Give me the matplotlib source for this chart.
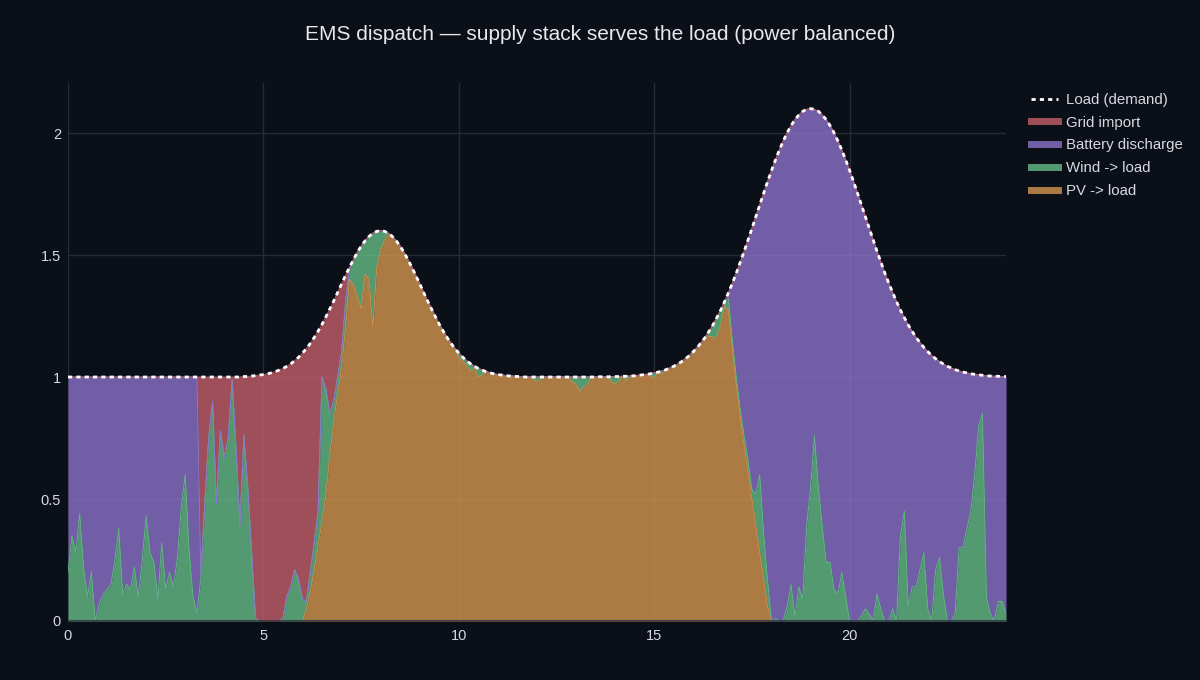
import numpy as np
import matplotlib
matplotlib.use("Agg")
import matplotlib.pyplot as plt
from matplotlib.lines import Line2D
from matplotlib.ticker import FuncFormatter

# ---------------- data (0.1 h steps) ----------------
hours = np.arange(0, 241) / 10.0

load = [
    1.000, 1.000, 1.000, 1.000, 1.000, 1.000, 1.000, 1.000, 1.000, 1.000,
    1.000, 1.000, 1.000, 1.000, 1.000, 1.000, 1.000, 1.000, 1.000, 1.000,
    1.000, 1.000, 1.000, 1.000, 1.000, 1.000, 1.000, 1.000, 1.000, 1.000,
    1.000, 1.000, 1.000, 1.000, 1.000, 1.000, 1.000, 1.000, 1.000, 1.000,
    1.000, 1.000, 1.000, 1.000, 1.000, 1.002, 1.002, 1.004, 1.006, 1.008,
    1.010, 1.013, 1.017, 1.022, 1.028, 1.035, 1.044, 1.054, 1.067, 1.081,
    1.098, 1.117, 1.138, 1.162, 1.188, 1.216, 1.247, 1.279, 1.312, 1.347,
    1.381, 1.416, 1.449, 1.480, 1.510, 1.536, 1.558, 1.576, 1.589, 1.597,
    1.600, 1.597, 1.589, 1.576, 1.558, 1.536, 1.510, 1.480, 1.449, 1.416,
    1.381, 1.347, 1.312, 1.279, 1.247, 1.216, 1.188, 1.162, 1.138, 1.117,
    1.098, 1.081, 1.067, 1.054, 1.044, 1.035, 1.028, 1.022, 1.017, 1.013,
    1.010, 1.008, 1.006, 1.004, 1.003, 1.002, 1.001, 1.000, 1.000, 1.000,
    1.000, 1.000, 1.000, 1.000, 1.000, 1.000, 1.000, 1.000, 1.000, 1.000,
    1.000, 1.000, 1.000, 1.000, 1.000, 1.000, 1.001, 1.001, 1.001, 1.001,
    1.002, 1.002, 1.003, 1.003, 1.004, 1.005, 1.007, 1.009, 1.011, 1.013,
    1.017, 1.020, 1.025, 1.030, 1.037, 1.044, 1.053, 1.063, 1.075, 1.088,
    1.104, 1.121, 1.141, 1.162, 1.187, 1.213, 1.243, 1.274, 1.309, 1.346,
    1.385, 1.426, 1.470, 1.515, 1.562, 1.609, 1.658, 1.706, 1.754, 1.801,
    1.846, 1.889, 1.930, 1.967, 2.001, 2.030, 2.055, 2.074, 2.089, 2.097,
    2.100, 2.097, 2.089, 2.074, 2.055, 2.030, 2.001, 1.967, 1.930, 1.889,
    1.846, 1.801, 1.754, 1.706, 1.658, 1.609, 1.562, 1.515, 1.470, 1.426,
    1.385, 1.346, 1.309, 1.274, 1.243, 1.213, 1.187, 1.162, 1.141, 1.121,
    1.104, 1.088, 1.075, 1.063, 1.053, 1.044, 1.037, 1.030, 1.025, 1.020,
    1.017, 1.013, 1.011, 1.009, 1.007, 1.005, 1.004, 1.003, 1.003, 1.002,
    1.002,
]

pv_to_load = [
    0, 0, 0, 0, 0, 0, 0, 0, 0, 0,
    0, 0, 0, 0, 0, 0, 0, 0, 0, 0,
    0, 0, 0, 0, 0, 0, 0, 0, 0, 0,
    0, 0, 0, 0, 0, 0, 0, 0, 0, 0,
    0, 0, 0, 0, 0, 0, 0, 0, 0, 0,
    0, 0, 0, 0, 0, 0, 0, 0, 0, 0,
    0.00, 0.05, 0.12, 0.21, 0.31, 0.41, 0.52, 0.68, 0.82, 0.93,
    1.04, 1.20, 1.40, 1.38, 1.33, 1.28, 1.42, 1.40, 1.20, 1.45,
    1.52, 1.56, 1.589, 1.576, 1.558, 1.536, 1.510, 1.480, 1.449, 1.416,
    1.381, 1.347, 1.312, 1.279, 1.247, 1.216, 1.188, 1.162, 1.138, 1.117,
    1.078, 1.066, 1.047, 1.024, 1.034, 1.000, 1.008, 1.022, 1.017, 1.013,
    1.010, 1.008, 1.006, 1.004, 1.003, 1.002, 1.001, 1.000, 1.000, 0.990,
    0.980, 0.990, 1.000, 1.000, 1.000, 1.000, 1.000, 1.000, 1.000, 0.980,
    0.970, 0.940, 0.960, 0.970, 1.000, 1.000, 1.001, 1.001, 1.001, 0.981,
    0.972, 0.982, 1.003, 0.983, 1.004, 1.005, 1.007, 1.009, 1.011, 1.003,
    0.997, 1.020, 1.010, 1.030, 1.037, 1.044, 1.053, 1.063, 1.075, 1.088,
    1.104, 1.121, 1.141, 1.162, 1.167, 1.163, 1.163, 1.214, 1.290, 1.27,
    1.12, 0.97, 0.84, 0.72, 0.61, 0.50, 0.39, 0.28, 0.17, 0.06,
    0, 0, 0, 0, 0, 0, 0, 0, 0, 0,
    0, 0, 0, 0, 0, 0, 0, 0, 0, 0,
    0, 0, 0, 0, 0, 0, 0, 0, 0, 0,
    0, 0, 0, 0, 0, 0, 0, 0, 0, 0,
    0, 0, 0, 0, 0, 0, 0, 0, 0, 0,
    0, 0, 0, 0, 0, 0, 0, 0, 0, 0,
    0,
]

wind_to_load = [
    0.20, 0.35, 0.28, 0.44, 0.22, 0.10, 0.20, 0.00, 0.07, 0.11,
    0.13, 0.15, 0.25, 0.38, 0.11, 0.15, 0.13, 0.22, 0.10, 0.25,
    0.43, 0.28, 0.24, 0.09, 0.32, 0.13, 0.20, 0.14, 0.26, 0.47,
    0.60, 0.29, 0.10, 0.03, 0.18, 0.48, 0.75, 0.90, 0.48, 0.78,
    0.67, 0.75, 0.99, 0.71, 0.39, 0.76, 0.55, 0.28, 0.01, 0.00,
    0.00, 0.00, 0.00, 0.00, 0.00, 0.01, 0.10, 0.14, 0.21, 0.17,
    0.09, 0.03, 0.08, 0.11, 0.14, 0.59, 0.43, 0.17, 0.08, 0.07,
    0.06, 0.10, 0.04, 0.10, 0.18, 0.256, 0.138, 0.176, 0.389, 0.147,
    0.08, 0.037, 0, 0, 0, 0, 0, 0, 0, 0,
    0, 0, 0, 0, 0, 0, 0, 0, 0, 0,
    0.02, 0.015, 0.02, 0.03, 0.01, 0.035, 0.02, 0, 0, 0,
    0, 0, 0, 0, 0, 0, 0, 0, 0, 0.01,
    0.02, 0.01, 0, 0, 0, 0, 0, 0, 0, 0.02,
    0.03, 0.06, 0.04, 0.03, 0, 0, 0, 0, 0, 0.02,
    0.03, 0.02, 0, 0.02, 0, 0, 0, 0, 0, 0.01,
    0.02, 0, 0.015, 0, 0, 0, 0, 0, 0, 0,
    0, 0, 0, 0, 0.02, 0.05, 0.08, 0.06, 0.019, 0.05,
    0.03, 0.03, 0.03, 0.04, 0.05, 0.04, 0.13, 0.32, 0.19, 0.11,
    0.00, 0.01, 0.00, 0.00, 0.06, 0.15, 0.02, 0.14, 0.09, 0.39,
    0.55, 0.76, 0.55, 0.39, 0.24, 0.24, 0.13, 0.11, 0.20, 0.10,
    0.00, 0.00, 0.00, 0.02, 0.05, 0.03, 0.00, 0.11, 0.05, 0.00,
    0.00, 0.05, 0.00, 0.35, 0.45, 0.06, 0.14, 0.14, 0.21, 0.28,
    0.05, 0.00, 0.21, 0.26, 0.11, 0.00, 0.00, 0.03, 0.30, 0.30,
    0.38, 0.45, 0.60, 0.80, 0.85, 0.10, 0.03, 0.00, 0.08, 0.08,
    0.03,
]

# hours during which the remaining demand is covered by the grid
grid_window = (3.4, 7.25)

series_names = ["PV -> load", "Wind -> load", "Battery discharge", "Grid import"]
title_text = "EMS dispatch \u2014 supply stack serves the load (power balanced)"
x_ticks = [0, 5, 10, 15, 20]
y_ticks = [0, 0.5, 1, 1.5, 2]

# ---------------- balance: remainder served by battery or grid ----------------
load_a = np.array(load, dtype=float)
pv_a = np.minimum(np.array(pv_to_load, dtype=float), load_a)
wind_a = np.minimum(np.array(wind_to_load, dtype=float), load_a - pv_a)
rest = load_a - pv_a - wind_a
rest[rest < 1e-6] = 0.0
in_grid = (hours >= grid_window[0]) & (hours <= grid_window[1])
grid_a = np.where(in_grid, rest, 0.0)
batt_a = np.where(in_grid, 0.0, rest)

# ---------------- style ----------------
BG = "#0b0f17"
GRIDC = "#262b36"
TXT = "#d6d9e0"
fill_cols = ["#d4974f", "#66be89", "#8d73cc", "#c5606b"]
line_cols = ["#c98f4c", "#62b585", "#8a77cc", "#bc5c67"]

plt.rcParams["font.family"] = ["Liberation Sans", "DejaVu Sans"]

fig = plt.figure(figsize=(12, 6.8), dpi=100, facecolor=BG)
ax = fig.add_axes([68 / 1200, 59 / 680, 938 / 1200, 538 / 680])
ax.set_facecolor(BG)

layers = [pv_a, wind_a, batt_a, grid_a]
base = np.zeros_like(load_a)
tops = []
for vals, fc in zip(layers, fill_cols):
    top = base + vals
    ax.fill_between(hours, base, top, color=fc, alpha=0.8, linewidth=0, zorder=2)
    tops.append(top)
    base = top
for top, lc in zip(tops, line_cols):
    ax.plot(hours, top, color=lc, lw=0.7, zorder=3)

ax.plot(hours, load_a, color="white", lw=2, linestyle=(0, (1.5, 1.5)), zorder=5)

ax.set_xlim(0, 24)
ax.set_ylim(0, 2.205)
ax.set_xticks(x_ticks)
ax.set_yticks(y_ticks)
ax.yaxis.set_major_formatter(FuncFormatter(lambda v, p: f"{v:g}"))
ax.grid(True, color=GRIDC, lw=1, zorder=1)
ax.set_axisbelow(True)
for s in ax.spines.values():
    s.set_visible(False)
ax.axhline(0, color="#3a404c", lw=1.5, zorder=4)
ax.tick_params(length=0, colors=TXT, labelsize=10.5)
ax.tick_params(axis="y", pad=5)
ax.tick_params(axis="x", pad=6)

fig.text(0.5, 1 - 35 / 680, title_text, ha="center", va="center",
         color="#e6e8ec", fontsize=15)

handles = [
    Line2D([0], [0], color="white", lw=2, linestyle=(0, (1.5, 1.5))),
    Line2D([0], [0], color=fill_cols[3], lw=5, alpha=0.8),
    Line2D([0], [0], color=fill_cols[2], lw=5, alpha=0.8),
    Line2D([0], [0], color=fill_cols[1], lw=5, alpha=0.8),
    Line2D([0], [0], color=fill_cols[0], lw=5, alpha=0.8),
]
labels = ["Load (demand)", series_names[3], series_names[2], series_names[1], series_names[0]]
leg = fig.legend(handles, labels, loc="upper left",
                 bbox_to_anchor=(1031 / 1200, 1 - 93 / 680),
                 frameon=False, fontsize=10.8, handlelength=1.8,
                 handletextpad=0.55, labelspacing=0.58, borderaxespad=0,
                 borderpad=0)
for t in leg.get_texts():
    t.set_color(TXT)

fig.savefig("out.png", dpi=100, facecolor=BG)
